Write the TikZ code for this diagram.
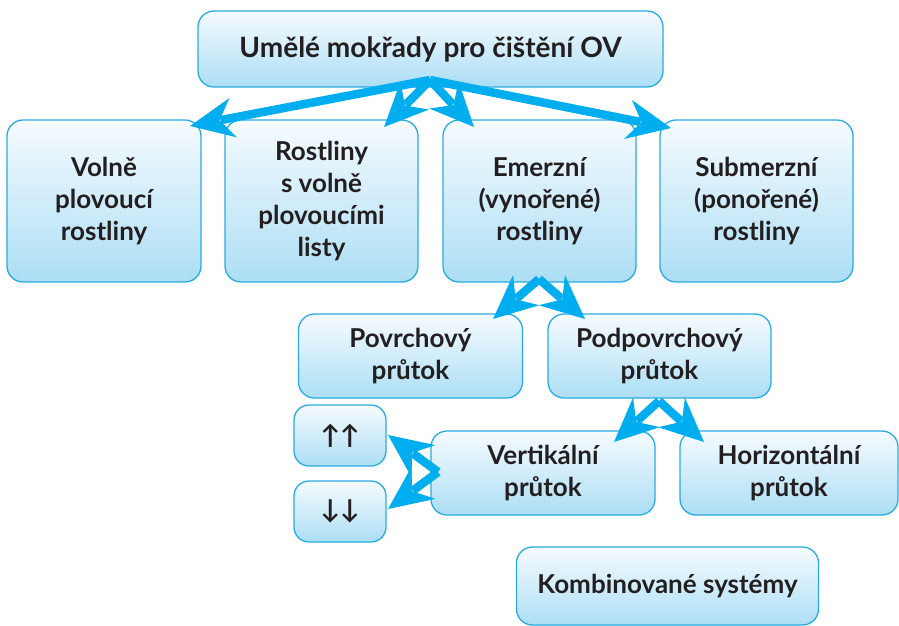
\documentclass[tikz,border=0pt]{standalone}
\usepackage{fontspec}
\setmainfont{Lato}
\usetikzlibrary{calc}
\definecolor{arrcyan}{RGB}{0,174,239}
\definecolor{boxline}{RGB}{41,171,226}
\definecolor{boxtop}{RGB}{246,251,254}
\definecolor{boxbot}{RGB}{172,222,245}
\definecolor{txt}{RGB}{35,31,32}
\newcommand{\cyanarrow}[2]{%
  \fill[arrcyan] (#2) -- ($(#2)!44pt!(#1)!20pt!90:(#2)$) -- ($(#2)!30pt!(#1)$)
     -- ($(#2)!44pt!(#1)!20pt!-90:(#2)$) -- cycle;
  \draw[shaft] (#1) -- ($(#2)!31pt!(#1)$);}
\begin{document}
\begin{tikzpicture}[x=1pt,y=-1pt,
  box/.style={draw=boxline, line width=1.3pt, rounded corners=16pt,
    top color=boxtop, bottom color=boxbot, align=center, text=txt,
    font=\fontsize{26}{32}\selectfont\bfseries, inner sep=0pt},
  shaft/.style={draw=arrcyan, line width=8.5pt}]
\useasboundingbox (0,0) rectangle (899,625);
% boxes
\node[box, minimum width=465pt, minimum height=76pt, font=\fontsize{28}{32}\selectfont\bfseries] (top) at (430.5,49) {Umělé mokřady pro čištění OV};
\node[box, minimum width=194pt, minimum height=162pt] (volne) at (104,201) {Volně\\plovoucí\\rostliny};
\node[box, minimum width=193pt, minimum height=162pt] (rostl) at (321.5,201) {Rostliny\\s volně\\plovoucími\\listy};
\node[box, minimum width=193pt, minimum height=162pt] (emer) at (539.5,201) {Emerzní\\(vynořené)\\rostliny};
\node[box, minimum width=193pt, minimum height=162pt] (subm) at (756.5,201) {Submerzní\\(ponořené)\\rostliny};
\node[box, minimum width=224pt, minimum height=84pt] (povr) at (410.5,356) {Povrchový\\průtok};
\node[box, minimum width=223pt, minimum height=84pt] (podp) at (659.5,356) {Podpovrchový\\průtok};
\node[box, minimum width=92pt, minimum height=61pt, rounded corners=15pt] (up) at (340,435.5) {↑↑};
\node[box, minimum width=92pt, minimum height=61pt, rounded corners=15pt] (down) at (340,511.5) {↓↓};
\node[box, minimum width=224pt, minimum height=84pt] (vert) at (543,473) {Vertikální\\průtok};
\node[box, minimum width=218pt, minimum height=84pt] (horiz) at (789,473) {Horizontální\\průtok};
\node[box, minimum width=302pt, minimum height=78pt] (komb) at (667.5,586) {Kombinované systémy};
% arrow coordinates
\coordinate (o1) at (430,80);
\coordinate (t1a) at (190,126);
\coordinate (t1b) at (384,127);
\coordinate (t1c) at (474,127);
\coordinate (t1d) at (671,128);
\coordinate (o2) at (539,279);
\coordinate (t2a) at (493,319);
\coordinate (t2b) at (585,319);
\coordinate (o3) at (659,401);
\coordinate (t3a) at (614,442);
\coordinate (t3b) at (704,442);
\coordinate (o4) at (438,472);
\coordinate (t4a) at (388,435);
\coordinate (t4b) at (388,509);
% arrows
\cyanarrow{o1}{t1a}
\cyanarrow{o1}{t1b}
\cyanarrow{o1}{t1c}
\cyanarrow{o1}{t1d}
\cyanarrow{o2}{t2a}
\cyanarrow{o2}{t2b}
\cyanarrow{o3}{t3a}
\cyanarrow{o3}{t3b}
\cyanarrow{o4}{t4a}
\cyanarrow{o4}{t4b}
\end{tikzpicture}
\end{document}
